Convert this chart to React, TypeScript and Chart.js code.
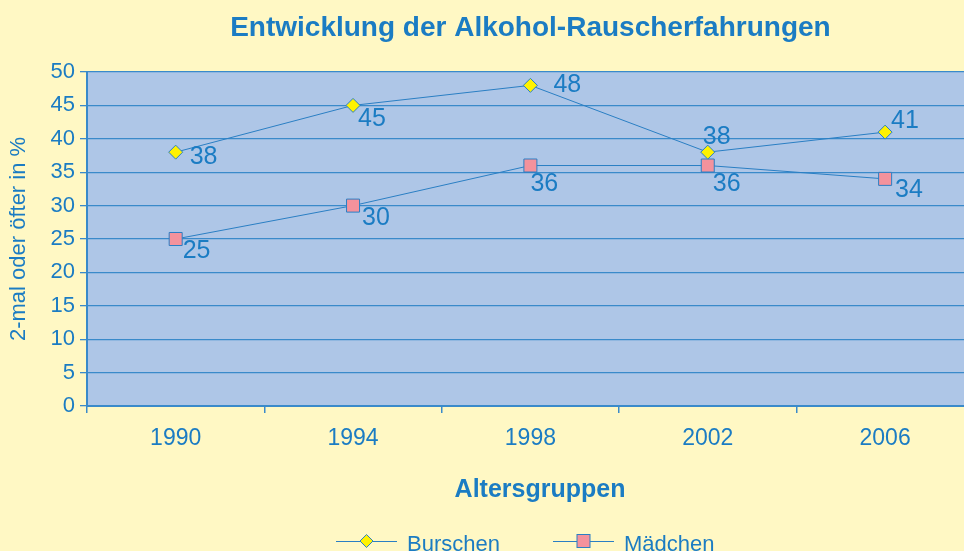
import React, { useEffect, useRef } from "react";
import { Chart, registerables } from "chart.js";

Chart.register(...registerables);

// ---- data ----
const years = ["1990", "1994", "1998", "2002", "2006"];
const burschen = [38, 45, 48, 38, 41];
const maedchen = [25, 30, 36, 36, 34];
const seriesNames = ["Burschen", "Mädchen"];
const yMin = 0;
const yMax = 50;
const yStep = 5;

const TITLE = "Entwicklung der Alkohol-Rauscherfahrungen";
const X_TITLE = "Altersgruppen";
const Y_TITLE = "2-mal oder öfter in %";

// ---- styles ----
const FONT = "'Liberation Sans', Arial, sans-serif";
const BG = "#FFF8C4";
const PLOT_BG = "#AEC6E7";
const BLUE = "#1B7CC3";
const GRID = "#3A8ACA";
const LINE = "#2A7FC4";
const YELLOW = "#FFF200";
const PINK = "#F4929C";

// label offsets (dx, dy) relative to each point, per series
const labelOffsets = [
  [[14, 5], [5, 14], [23, 0], [-5, -15], [6, -11]],
  [[7, 12], [9, 13], [0, 19], [5, 19], [10, 11]],
];

function drawDiamond(ctx: CanvasRenderingContext2D, x: number, y: number, r: number) {
  ctx.beginPath();
  ctx.moveTo(x - r, y);
  ctx.lineTo(x, y - r);
  ctx.lineTo(x + r, y);
  ctx.lineTo(x, y + r);
  ctx.closePath();
  ctx.fillStyle = YELLOW;
  ctx.fill();
  ctx.strokeStyle = LINE;
  ctx.lineWidth = 1;
  ctx.stroke();
}

function drawSquare(ctx: CanvasRenderingContext2D, x: number, y: number, s: number) {
  ctx.fillStyle = PINK;
  ctx.fillRect(x - s / 2, y - s / 2, s, s);
  ctx.strokeStyle = LINE;
  ctx.lineWidth = 1;
  ctx.strokeRect(x - s / 2, y - s / 2, s, s);
}

const customPlugin = {
  id: "customDecor",
  beforeDraw(chart: any) {
    const { ctx, chartArea } = chart;
    const { left, top, right, bottom } = chartArea;
    ctx.save();
    ctx.fillStyle = PLOT_BG;
    ctx.fillRect(left, top, right - left, bottom - top);
    ctx.restore();
  },
  afterDatasetsDraw(chart: any) {
    const { ctx } = chart;
    ctx.save();
    ctx.font = `25px ${FONT}`;
    ctx.fillStyle = BLUE;
    ctx.textAlign = "left";
    ctx.textBaseline = "middle";
    chart.data.datasets.forEach((ds: any, di: number) => {
      const meta = chart.getDatasetMeta(di);
      meta.data.forEach((pt: any, i: number) => {
        const [dx, dy] = labelOffsets[di][i];
        ctx.fillText(String(ds.data[i]), pt.x + dx, pt.y + dy);
      });
    });
    ctx.restore();
  },
  afterDraw(chart: any) {
    const { ctx, chartArea } = chart;
    ctx.save();
    ctx.fillStyle = BLUE;
    ctx.textAlign = "center";
    ctx.textBaseline = "middle";
    // main title
    ctx.font = `bold 28px ${FONT}`;
    ctx.fillText(TITLE, (chartArea.left + chartArea.right) / 2, 28);
    // x axis title
    ctx.font = `bold 25px ${FONT}`;
    ctx.fillText(X_TITLE, 540, 490);
    // legend
    const ly = 541;
    const items = [
      { x0: 336, x1: 397, name: seriesNames[0], kind: "diamond" },
      { x0: 553, x1: 614, name: seriesNames[1], kind: "square" },
    ];
    ctx.font = `22px ${FONT}`;
    ctx.textAlign = "left";
    items.forEach((it) => {
      ctx.strokeStyle = LINE;
      ctx.lineWidth = 1;
      ctx.beginPath();
      ctx.moveTo(it.x0, ly + 0.5);
      ctx.lineTo(it.x1, ly + 0.5);
      ctx.stroke();
      const cx = (it.x0 + it.x1) / 2;
      if (it.kind === "diamond") drawDiamond(ctx, cx, ly, 6.5);
      else drawSquare(ctx, cx, ly, 13);
      ctx.fillStyle = BLUE;
      ctx.fillText(it.name, it.x1 + 10, ly + 4);
    });
    ctx.restore();
  },
};

export default function App() {
  const ref = useRef<HTMLCanvasElement | null>(null);

  useEffect(() => {
    if (!ref.current) return;
    const chart = new Chart(ref.current, {
      type: "line",
      data: {
        labels: years,
        datasets: [
          {
            label: seriesNames[0],
            data: burschen,
            borderColor: LINE,
            borderWidth: 1,
            backgroundColor: YELLOW,
            pointStyle: "rectRot",
            pointRadius: 7,
            pointBorderColor: LINE,
            pointBorderWidth: 1,
            pointBackgroundColor: YELLOW,
            tension: 0,
          },
          {
            label: seriesNames[1],
            data: maedchen,
            borderColor: LINE,
            borderWidth: 1,
            backgroundColor: PINK,
            pointStyle: "rect",
            pointRadius: 9.2,
            pointBorderColor: LINE,
            pointBorderWidth: 1,
            pointBackgroundColor: PINK,
            tension: 0,
          },
        ],
      },
      options: {
        animation: false,
        responsive: false,
        devicePixelRatio: 1,
        layout: { padding: { top: 72, left: 0, right: 6, bottom: 0 } },
        plugins: {
          legend: { display: false },
          title: { display: false },
          tooltip: { enabled: false },
        },
        scales: {
          x: {
            type: "category",
            offset: true,
            grid: {
              offset: true,
              drawOnChartArea: false,
              drawTicks: true,
              tickLength: 7,
              color: GRID,
              lineWidth: 1.5,
            },
            border: { display: true, color: GRID, width: 2 },
            ticks: {
              color: BLUE,
              font: { family: FONT, size: 23 },
              padding: 12,
              maxRotation: 0,
            },
            afterFit(scale: any) {
              scale.height = 145;
              scale.paddingLeft = 0;
              scale.paddingRight = 0;
            },
          },
          y: {
            min: yMin,
            max: yMax,
            grid: {
              color: GRID,
              lineWidth: 1.3,
              drawTicks: true,
              tickLength: 7,
            },
            border: { display: true, color: GRID, width: 2 },
            ticks: {
              stepSize: yStep,
              color: BLUE,
              font: { family: FONT, size: 22 },
              padding: 5,
            },
            title: {
              display: true,
              text: Y_TITLE,
              color: BLUE,
              font: { family: FONT, size: 22 },
              padding: { top: 6, bottom: 0 },
            },
            afterFit(scale: any) {
              scale.width = 87;
              scale.paddingTop = 0;
              scale.paddingBottom = 0;
            },
          },
        },
      },
      plugins: [customPlugin],
    });
    return () => chart.destroy();
  }, []);

  return (
    <div
      style={{
        position: "fixed",
        left: 0,
        top: 0,
        width: 964,
        height: 551,
        overflow: "hidden",
        background: BG,
      }}
    >
      <canvas ref={ref} width={984} height={551} style={{ display: "block" }} />
    </div>
  );
}
